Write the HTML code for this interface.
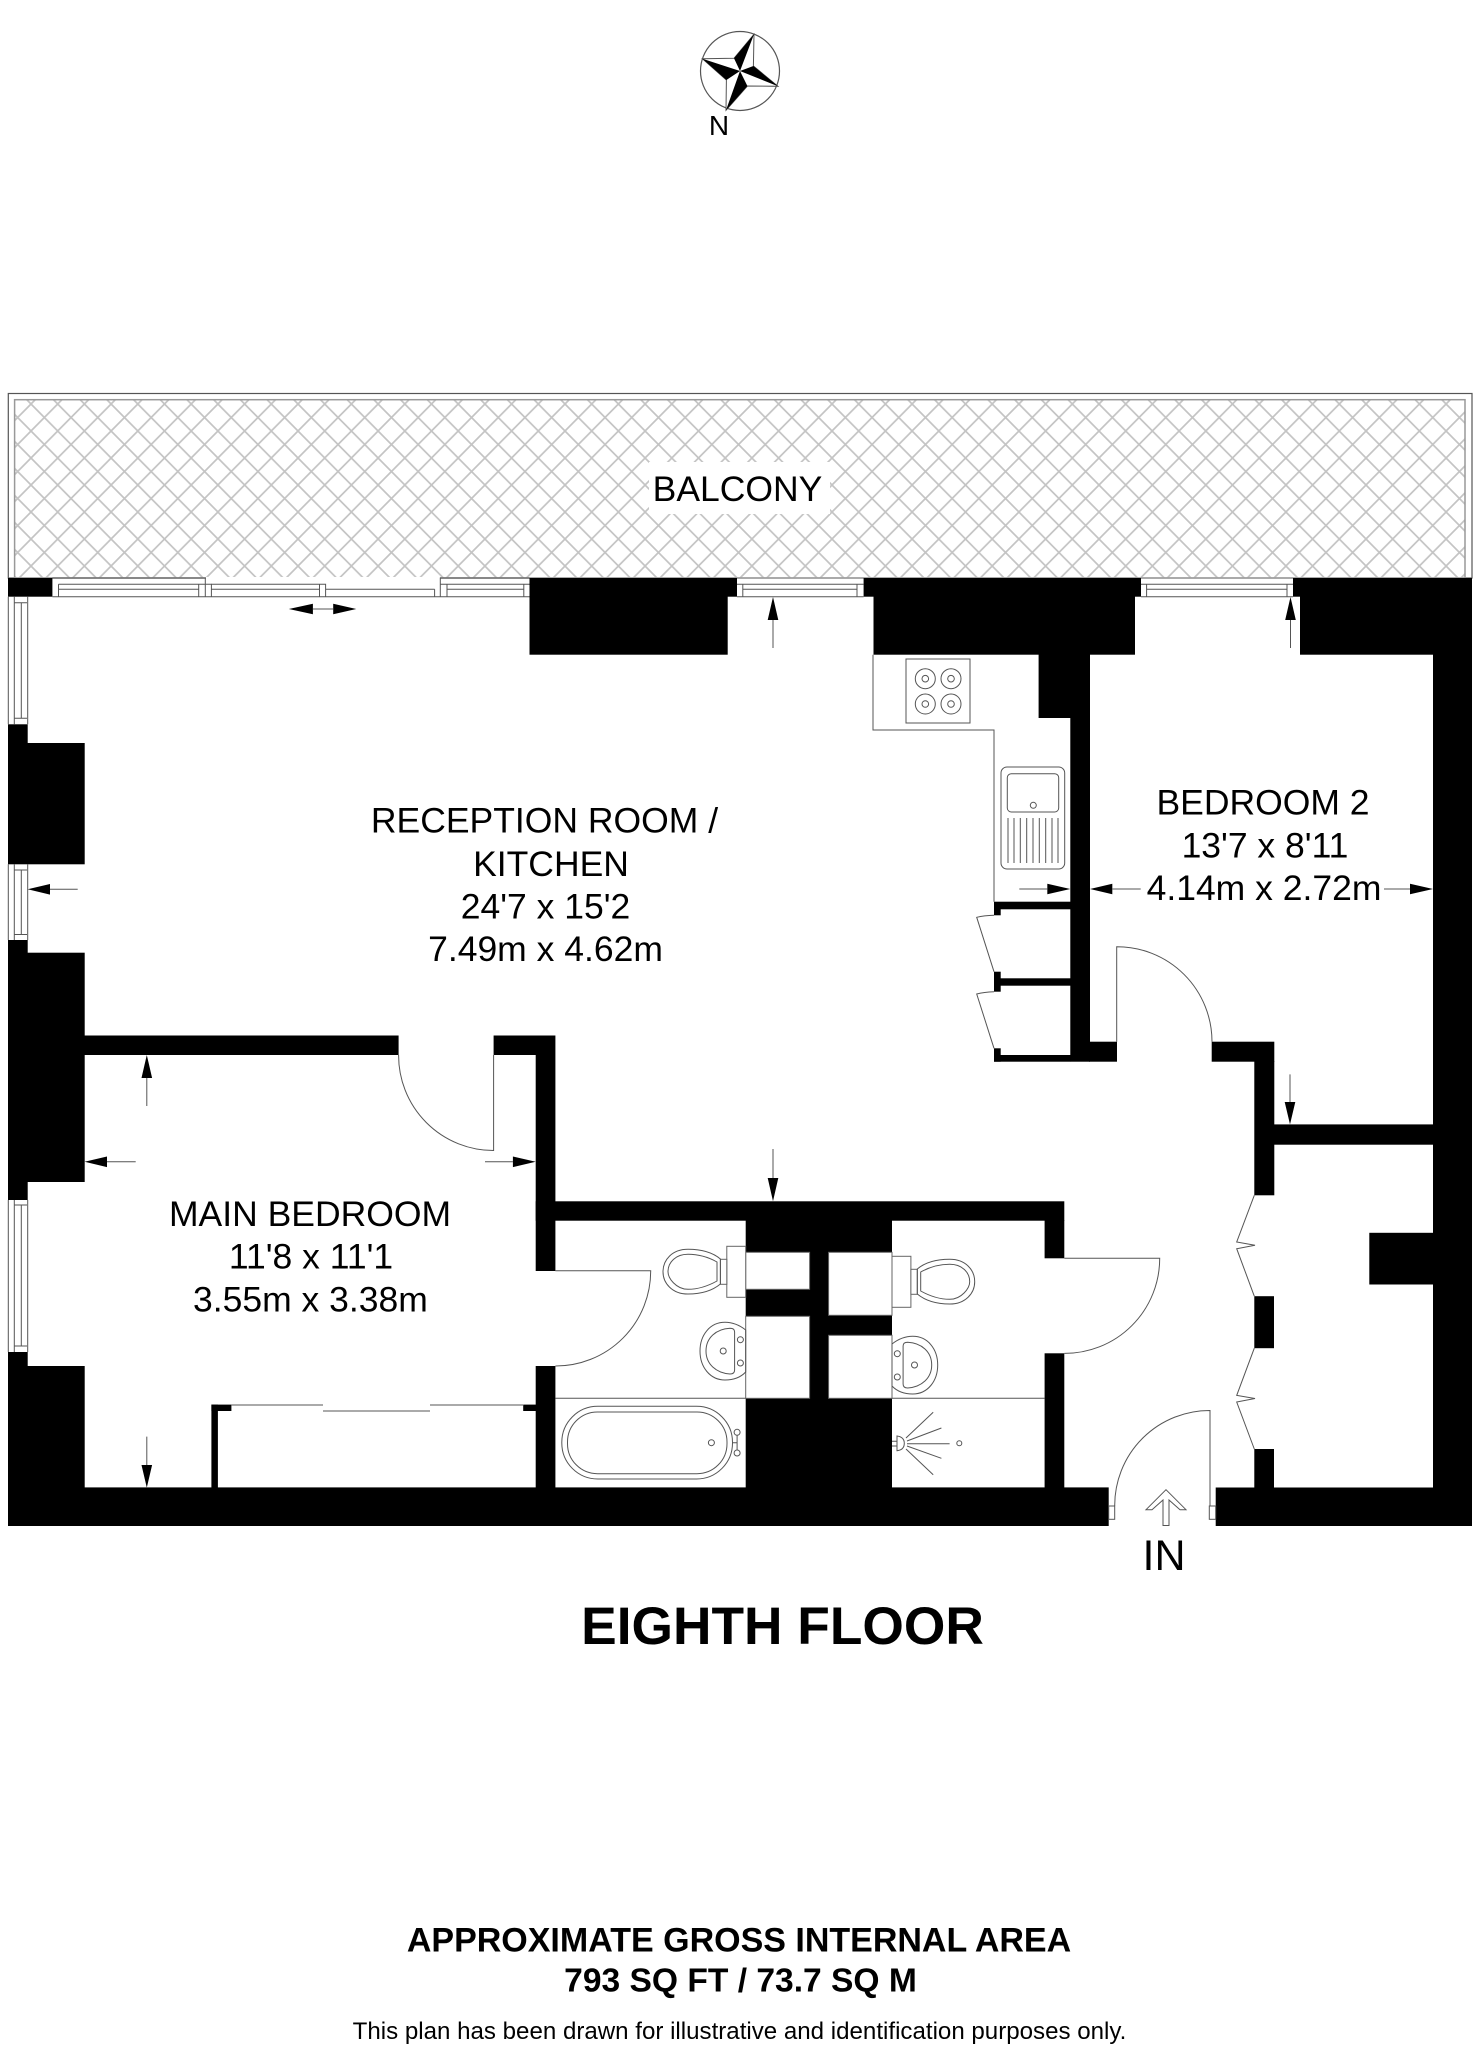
<!DOCTYPE html>
<html><head><meta charset="utf-8"><style>
html,body{margin:0;padding:0;background:#fff}
svg{display:block}
text{font-family:"Liberation Sans",sans-serif;fill:#000;font-size:35.5px;text-anchor:middle}
.b{font-weight:bold}
.l{fill:none;stroke:#555;stroke-width:1}
.w{fill:#fff;stroke:#666;stroke-width:1}
</style></head><body>
<svg width="1479" height="2048" viewBox="0 0 1479 2048" xmlns="http://www.w3.org/2000/svg">
<defs>
<pattern id="h" patternUnits="userSpaceOnUse" x="31" y="404" width="26.7" height="27">
<path d="M0,0L26.7,27M26.7,0L0,27" stroke="#c4c4c4" stroke-width="1.7" fill="none"/>
</pattern>
<g id="toilet">
<rect class="w" x="726.8" y="1246.3" width="18.9" height="51"/>
<rect class="w" x="720.4" y="1259.3" width="6.4" height="25"/>
<path class="l" d="M720.4,1259C712,1252 700,1249.3 688,1249.3C672,1249.3 663,1260 663,1271.7C663,1283 672,1294 688,1294C700,1294 712,1291 720.4,1284Z"/>
<path class="l" d="M717,1262C708,1257 698,1254.3 688,1254.3C676,1254.3 668,1262 668,1271.7C668,1278 676,1289.3 688,1289.3C698,1289.3 708,1286 717,1281Z"/>
</g>
<g id="basin">
<path class="l" d="M745.7,1330C738,1324 730,1322.3 725,1322.3C710,1322.3 700,1335 700,1351C700,1367 710,1380 725,1380C732,1380 740,1378 745.7,1372Z"/>
<path class="l" d="M734.6,1332C734.6,1329 732,1328.3 730,1328.3C716,1329 706,1338 706,1351C706,1364 716,1373 730,1374C733,1374 734.6,1373 734.6,1370Z"/>
<circle class="l" cx="740.4" cy="1339.7" r="3"/><circle class="l" cx="740.4" cy="1363" r="3"/><circle class="l" cx="723.2" cy="1351" r="3"/>
</g>
</defs>
<rect width="1479" height="2048" fill="#fff"/>

<!-- compass -->
<circle cx="740" cy="71" r="39.5" fill="#fff" stroke="#555" stroke-width="1.2"/>
<path d="M754,34.3L753.4,66L778,86.3L747.4,86L726,110.3L726.4,80L702.4,58.7L734,58.3Z" fill="#fff" stroke="#555" stroke-width="1"/>
<path d="M740,71L754,34.3L734,58.3ZM740,71L778,86.3L753.4,66ZM740,71L726,110.3L747.4,86ZM740,71L702.4,58.7L726.4,80Z" fill="#000"/>
<text x="719" y="135" style="font-size:28px">N</text>

<!-- balcony -->
<rect x="8.3" y="393.5" width="1463.7" height="184.5" fill="#fff" stroke="#555" stroke-width="1.2"/>
<rect x="14.6" y="399.7" width="1450.4" height="178.3" fill="url(#h)" stroke="#999" stroke-width="1.5"/>
<rect x="649" y="462" width="181" height="52" fill="#fff"/>
<rect x="206" y="577" width="234" height="7" fill="#fff"/>
<text x="737.5" y="501">BALCONY</text>

<!-- black structure -->
<g fill="#000">
<rect x="8" y="578" width="44.4" height="18.7"/>
<rect x="8" y="724.3" width="19.7" height="19"/>
<rect x="8" y="743" width="76.7" height="121.3"/>
<rect x="8" y="940" width="19.7" height="13"/>
<rect x="8" y="952.7" width="76.7" height="229.3"/>
<rect x="8" y="1182" width="19.7" height="18"/>
<rect x="8" y="1352" width="19.7" height="14.5"/>
<rect x="8" y="1366" width="76.7" height="160"/>
<rect x="529.5" y="578" width="207.5" height="18.7"/>
<rect x="529.5" y="596" width="198.2" height="58.7"/>
<rect x="863.6" y="578" width="277.4" height="18.7"/>
<rect x="873.5" y="596" width="261.5" height="58.7"/>
<rect x="1038.6" y="654" width="51.4" height="64"/>
<rect x="1070.3" y="717" width="19.7" height="344.7"/>
<rect x="1089" y="1041.7" width="28" height="20"/>
<rect x="994" y="901.7" width="76.5" height="7.6"/>
<rect x="994" y="909" width="6.7" height="6.3"/>
<rect x="994" y="971.7" width="6.7" height="20"/>
<rect x="1000" y="978.3" width="70.5" height="7.4"/>
<rect x="994" y="1048.3" width="6.7" height="13.4"/>
<rect x="994" y="1055" width="76.5" height="6.7"/>
<rect x="1293" y="578" width="179" height="18.7"/>
<rect x="1300" y="596" width="172" height="58.7"/>
<rect x="1433" y="654" width="39" height="872"/>
<rect x="1211.7" y="1041.7" width="62.6" height="20"/>
<rect x="1254.3" y="1061" width="20" height="134.3"/>
<rect x="1274" y="1124.4" width="160" height="20.3"/>
<rect x="1369.3" y="1232.8" width="64" height="51.7"/>
<rect x="1254.3" y="1296.2" width="19.7" height="52"/>
<rect x="1254.3" y="1449" width="19.7" height="39"/>
<rect x="1215.7" y="1487.5" width="256.3" height="38.5"/>
<rect x="8" y="1487.4" width="1100.7" height="38.6"/>
<rect x="84" y="1035.5" width="314.6" height="19.5"/>
<rect x="493.6" y="1035.5" width="61.8" height="19.5"/>
<rect x="535.7" y="1055" width="19.7" height="216"/>
<rect x="535.7" y="1366" width="19.7" height="122"/>
<rect x="535.7" y="1201.3" width="528.6" height="19.4"/>
<rect x="745.7" y="1220" width="146.3" height="268"/>
<rect x="1044.6" y="1220" width="19.7" height="38.3"/>
<rect x="1044.6" y="1353.3" width="19.7" height="135"/>
<rect x="211.4" y="1404.6" width="6.5" height="83"/>
<rect x="211.4" y="1404.6" width="20" height="6.4"/>
<rect x="523.2" y="1404.6" width="13" height="6.4"/>
</g>

<!-- cupboards in bathroom core -->
<rect class="w" x="745.7" y="1252.3" width="63.9" height="37"/>
<rect class="w" x="745.7" y="1316.3" width="63.9" height="82"/>
<rect class="w" x="828.6" y="1252.3" width="63.4" height="63"/>
<rect class="w" x="828.6" y="1335.3" width="63.4" height="63"/>

<!-- windows -->
<g class="l">
<path d="M52.4,578H205.3V584.3M52.4,596.7H529.5M58.5,584.3H211.4V596.7M58.5,584.3V596.7M198.7,584.3V596.7M205.3,584.3V596.7M58.5,589.3H198.7"/>
<path d="M211.4,584.3H325.6V596.7M211.4,589.3H319.5M319.5,584.3V596.7M325.6,589.3H434.6M434.6,589.3V596.7"/>
<path d="M440.3,596.7V578H529.5M440.3,584.3H529.5M447,584.3V596.7M447,589.3H523.8M523.8,584.3V596.7"/>
<path d="M737,584.3H863.6M737,596.7H863.6M742.8,584.3V596.7M857,584.3V596.7M742.8,589.3H857"/>
<path d="M1141,584.3H1293M1141,596.7H1293M1146.6,584.3V596.7M1287,584.3V596.7M1146.6,589.3H1287"/>
<path d="M8.3,596.7V724.3M27.7,596.7V724.3M14.3,596.7V724.3M14.3,602.7H27M14.3,718.3H27M21.3,602.7V718.3"/>
<path d="M8.3,864.3V940M27.7,864.3V940M14.3,864.3V940M14.3,870H27M14.3,934.5H27M21.3,870V934.5"/>
<path d="M8.3,1200V1352M27.7,1200V1352M14.3,1200V1352M14.3,1205H27M14.3,1346H27M21.3,1205V1346"/>
</g>

<!-- kitchen -->
<g class="l">
<path d="M873,654.7V730H994V901.7"/>
<rect x="906" y="659" width="64" height="64"/>
<circle cx="925.3" cy="678.7" r="10"/><circle cx="925.3" cy="678.7" r="3.3"/>
<circle cx="951" cy="678.7" r="10"/><circle cx="951" cy="678.7" r="3.3"/>
<circle cx="925.3" cy="704" r="10"/><circle cx="925.3" cy="704" r="3.3"/>
<circle cx="951" cy="704" r="10"/><circle cx="951" cy="704" r="3.3"/>
<rect x="1001" y="767" width="63.7" height="102" rx="6"/>
<rect x="1007.3" y="773.7" width="51.4" height="38.3" rx="4"/>
<circle cx="1033.3" cy="805.3" r="3"/>
<path d="M1008,818V863M1014,818V863M1020.3,818V863M1026.7,818V863M1033,818V863M1039.3,818V863M1045.7,818V863M1052,818V863M1058,818V863"/>
<path d="M994,915.3Q984,915.5 976.7,917.3L994,971.7"/>
<path d="M994,991.7Q984,992 976.7,994L994,1048.3"/>
</g>

<!-- doors -->
<g class="l">
<path d="M1116.7,1041.7V946.7A95,95 0 0 1 1212,1041.7"/>
<path d="M398.6,1055A95,95 0 0 0 493.6,1150.5V1055"/>
<path d="M555.4,1270.7H650.7A95,95 0 0 1 555.4,1366"/>
<path d="M1064.3,1258.3H1159.7A95,95 0 0 1 1064.3,1353.4"/>
<path d="M1210,1506V1410.5A95,95 0 0 0 1114.7,1506"/>
<rect x="1108.7" y="1506" width="6" height="13.3"/>
<rect x="1209.3" y="1506" width="6.4" height="13.3"/>
<path d="M1254.3,1195.3L1236.7,1242L1255,1245.2L1236.7,1248.7L1254.3,1296.2"/>
<path d="M1254.3,1348.2L1236.7,1395.4L1255,1398.5L1236.7,1402L1254.3,1449"/>
<path d="M231.4,1405H323M323,1411H430M430,1405H523.2" stroke="#777" stroke-width="1.2"/>
<path d="M1166,1489.7L1186,1509.7H1180L1169,1500V1525.5H1163V1500L1152,1509.7H1146Z" fill="#fff"/>
</g>

<!-- bathrooms -->
<g class="l">
<path d="M555.4,1398.3H745.7M892,1398.3H1044.6"/>
<rect x="561.8" y="1406.3" width="170.7" height="72.7" rx="36" ry="36"/>
<rect x="567.5" y="1412" width="159.5" height="61.7" rx="30" ry="30"/>
<circle cx="711.4" cy="1442.7" r="3"/>
<circle cx="737.1" cy="1432.3" r="3"/><circle cx="737.1" cy="1453" r="3"/>
<path d="M737.1,1435.3V1450M732.5,1442.7H737.1"/>
<path d="M892,1441.3H897M892,1446H897M897,1436V1450.7Q904.3,1450 904.3,1443.3Q904.3,1437 897,1436Z"/>
<path d="M907,1443.7H949.6M907,1441L941.4,1428M906,1438L933.2,1412.3M907,1446L941.4,1458.3M906,1449L933.2,1474.7"/>
<circle cx="959.3" cy="1443.3" r="2.5"/>
</g>
<use href="#toilet"/>
<use href="#toilet" transform="translate(1637.7,10) scale(-1,1)"/>
<use href="#basin"/>
<use href="#basin" transform="translate(1637.7,14) scale(-1,1)"/>

<!-- dimension arrows -->
<g fill="#000">
<path d="M288.8,609L312.9,603.7V614.3ZM356.3,609L333.2,603.7V614.3Z"/>
<path d="M773,597L767.7,620H778.3Z"/>
<path d="M1290.5,597L1285.2,620H1295.8Z"/>
<path d="M27.7,889.3L50,884V894.6Z"/>
<path d="M1070.3,889L1047.3,883.7V894.3Z"/>
<path d="M1090,889L1112.3,883.7V894.3Z"/>
<path d="M1433,889L1410,883.7V894.3Z"/>
<path d="M146.8,1055L141.5,1078H152.1Z"/>
<path d="M84.6,1161.8L107,1156.5V1167.1Z"/>
<path d="M535.7,1161.8L512.9,1156.5V1167.1Z"/>
<path d="M146.8,1487.6L141.5,1465H152.1Z"/>
<path d="M773,1201.3L767.7,1178H778.3Z"/>
<path d="M1290,1124.4L1284.7,1102H1295.3Z"/>
</g>
<g class="l">
<path d="M312.9,609H333.2"/>
<path d="M773,620V648M1290.5,620V648"/>
<path d="M50,889.3H77.7M1019.3,889H1047.3M1112.3,889H1140.7M1384,889H1410"/>
<path d="M146.8,1078V1106M107,1161.8H135.7M485,1161.8H512.9M146.8,1436.6V1465"/>
<path d="M773,1149V1178M1290,1074.4V1102"/>
</g>

<!-- labels -->
<text x="544.5" y="832.7">RECEPTION ROOM /</text>
<text x="551" y="876">KITCHEN</text>
<text x="545.5" y="918.7">24'7 x 15'2</text>
<text x="545.5" y="961">7.49m x 4.62m</text>
<text x="1263" y="814.3">BEDROOM 2</text>
<text x="1265" y="857.3">13'7 x 8'11</text>
<text x="1264" y="900">4.14m x 2.72m</text>
<text x="310" y="1226">MAIN BEDROOM</text>
<text x="311" y="1268.6">11'8 x 11'1</text>
<text x="310.4" y="1311.6">3.55m x 3.38m</text>
<text x="1164" y="1570" style="font-size:43px">IN</text>
<text class="b" x="782.5" y="1644" style="font-size:53.3px">EIGHTH FLOOR</text>
<text class="b" x="739" y="1951.7" style="font-size:34px">APPROXIMATE GROSS INTERNAL AREA</text>
<text class="b" x="740.5" y="1991.7" style="font-size:33.6px">793 SQ FT / 73.7 SQ M</text>
<text x="739.5" y="2039" style="font-size:24.1px">This plan has been drawn for illustrative and identification purposes only.</text>
</svg>
</body></html>
